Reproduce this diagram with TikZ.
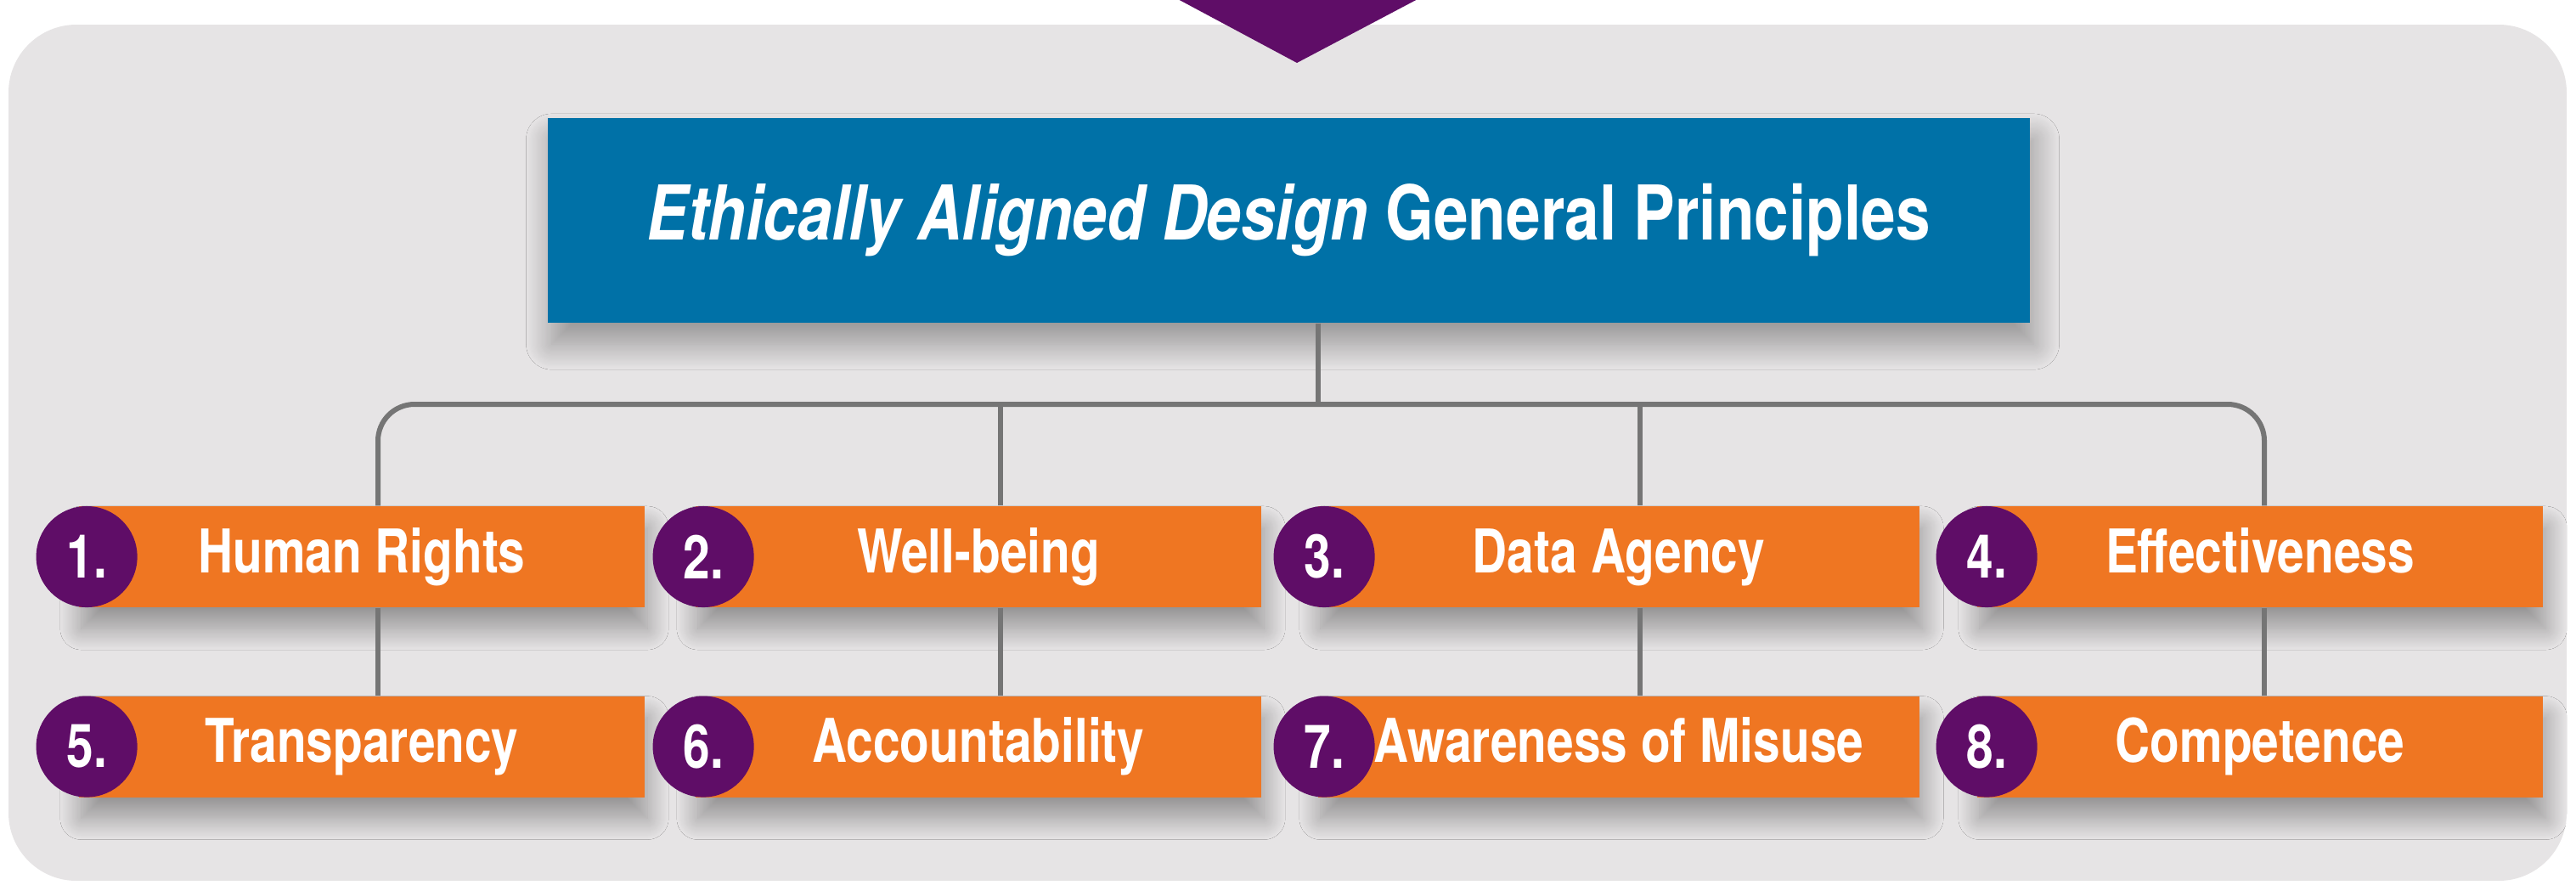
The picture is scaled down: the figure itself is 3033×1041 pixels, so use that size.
\documentclass[tikz,border=0pt]{standalone}
\usepackage{fontspec}
\newfontfamily\boxfont{TeX Gyre Heros}[FakeStretch=0.8]
\newfontfamily\titlefont{TeX Gyre Heros}[FakeStretch=0.82]
\usetikzlibrary{positioning,shadows.blur}
\definecolor{eadblue}{HTML}{0071A7}
\definecolor{eadorange}{HTML}{EF7622}
\definecolor{eadpurple}{HTML}{5F0D67}
\definecolor{eadpanel}{HTML}{E6E4E5}
\definecolor{eadline}{HTML}{757575}

\begin{document}
\begin{tikzpicture}
[x=0.01cm,y=-0.01cm,
titlebox/.style = {fill = eadblue, minimum width = 17.44cm, minimum height = 2.41cm, inner sep = 0pt, text = white,
  font = \titlefont\bfseries\fontsize{25.3pt}{30pt}\selectfont,
  blur shadow = {shadow xshift = 0.05cm, shadow yshift = -0.25cm, shadow blur radius = 0.3cm, shadow blur steps = 25, shadow opacity = 35}},
principle/.style = {fill = eadorange, minimum width = 6.66cm, minimum height = 1.19cm, inner sep = 0pt, text = white,
  text height = 0.52cm, text depth = 0.15cm, font = \boxfont\bfseries\fontsize{20.2pt}{24pt}\selectfont,
  blur shadow = {shadow xshift = 0.03cm, shadow yshift = -0.25cm, shadow blur radius = 0.25cm, shadow blur steps = 25, shadow opacity = 35}},
num/.style = {circle, fill = eadpurple, minimum size = 1.19cm, inner sep = 0pt, text = white,
  font = \boxfont\bfseries\fontsize{20.2pt}{24pt}\selectfont},
link/.style = {draw = eadline, line width = 0.06cm},]
\useasboundingbox (0,0) rectangle (3033,1041);
\fill[eadpanel, rounded corners = 0.8cm] (10,29) rectangle (3022,1037);
\fill[eadpurple] (1385,-2) -- (1671,-2) -- (1527,74) -- cycle;

\node (top) at (1517,259.5)[titlebox] {{\itshape Ethically Aligned Design} General Principles};

\node (p1) at (426,655.5)[principle] {Human Rights};
\node (p2) at (1152,655.5)[principle] {Well-being};
\node (p3) at (1906,655.5)[principle, minimum width = 7.08cm] {Data Agency};
\node (p4) at (2661,655.5)[principle] {Effectiveness};
\node (p5) [principle, below = 1.03cm of p1] {Transparency};
\node (p6) [principle, below = 1.03cm of p2] {Accountability};
\node (p7) [principle, minimum width = 7.08cm, below = 1.03cm of p3] {Awareness of Misuse};
\node (p8) [principle, below = 1.03cm of p4] {Competence};

\node (n1) at ([xshift = 0.1cm]p1.west)[num] {1.};
\node (n2) at ([xshift = 0.1cm]p2.west)[num] {2.};
\node (n3) at ([xshift = 0.08cm]p3.west)[num] {3.};
\node (n4) at ([xshift = 0.12cm]p4.west)[num] {4.};
\node (n5) at ([xshift = 0.1cm]p5.west)[num] {5.};
\node (n6) at ([xshift = 0.1cm]p6.west)[num] {6.};
\node (n7) at ([xshift = 0.08cm]p7.west)[num] {7.};
\node (n8) at ([xshift = 0.12cm]p8.west)[num] {8.};

\coordinate (c0) at (1552,476);
\coordinate (c1) at (445,476);
\coordinate (c2) at (1178,476);
\coordinate (c3) at (1931,476);
\coordinate (c4) at (2666,476);
\draw[link] (top.south -| c0) -- (c0);
\draw[link, rounded corners = 0.43cm] (p1.north -| c1) -- (c1) -- (c4) -- (p4.north -| c4);
\draw[link] (c2) -- (p2.north -| c2);
\draw[link] (c3) -- (p3.north -| c3);
\draw[link] (p1.south -| c1) -- (p5.north -| c1);
\draw[link] (p2.south -| c2) -- (p6.north -| c2);
\draw[link] (p3.south -| c3) -- (p7.north -| c3);
\draw[link] (p4.south -| c4) -- (p8.north -| c4);
\end{tikzpicture}
\end{document}
